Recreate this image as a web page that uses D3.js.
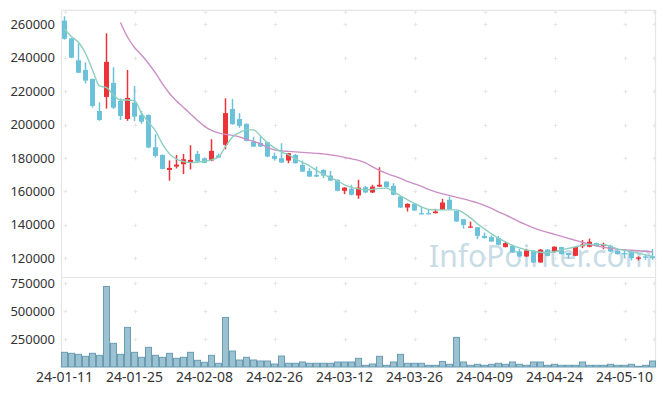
<!DOCTYPE html>
<html lang="en">
<head>
<meta charset="utf-8">
<title>Candles</title>
<script src="https://cdn.jsdelivr.net/npm/d3@7"></script>
<style>
  body { margin: 0; background: #fff; }
  svg { display: block; font-family: "Noto Sans", sans-serif; }
  .tick-label { fill: #333; }
</style>
</head>
<body>
<div id="chart"></div>
<script>
// trading days shown on the x axis
var dates = ["24-01-11","24-01-12","24-01-15","24-01-16","24-01-17","24-01-18","24-01-19","24-01-22","24-01-23","24-01-24",
  "24-01-25","24-01-26","24-01-29","24-01-30","24-01-31","24-02-01","24-02-02","24-02-05","24-02-06","24-02-07",
  "24-02-08","24-02-13","24-02-14","24-02-15","24-02-16","24-02-19","24-02-20","24-02-21","24-02-22","24-02-23",
  "24-02-26","24-02-27","24-02-28","24-02-29","24-03-04","24-03-05","24-03-06","24-03-07","24-03-08","24-03-11",
  "24-03-12","24-03-13","24-03-14","24-03-15","24-03-18","24-03-19","24-03-20","24-03-21","24-03-22","24-03-25",
  "24-03-26","24-03-27","24-03-28","24-03-29","24-04-01","24-04-02","24-04-03","24-04-04","24-04-05","24-04-08",
  "24-04-09","24-04-11","24-04-12","24-04-15","24-04-16","24-04-17","24-04-18","24-04-19","24-04-22","24-04-23",
  "24-04-24","24-04-25","24-04-26","24-04-29","24-04-30","24-05-02","24-05-03","24-05-07","24-05-08","24-05-09",
  "24-05-10","24-05-13","24-05-14","24-05-16","24-05-17"];

var openPx = [262200,251600,238500,232700,227300,208100,216500,224900,214100,203300,
  213100,205700,205700,186400,181800,172800,174800,176200,177000,182400,
  179800,178400,181500,187800,209300,203300,200400,189900,189000,189400,
  181200,179800,178400,181800,175800,172200,169800,172800,169400,166900,
  160300,161500,157500,162500,159300,162800,165800,163300,156900,150300,
  152500,146900,146900,146900,148900,154900,148300,143300,138300,138500,
  133300,132600,132000,126600,127400,124000,121000,124400,117400,125100,
  124000,126600,123000,121400,127100,126800,129000,127200,127400,124400,
  123000,123500,119600,121000,121100];
var highPx = [264800,251800,248600,237200,227500,213300,254600,234300,215600,232700,
  223100,208100,206000,194200,182000,178500,181800,182400,187600,184200,
  180200,191200,182700,215700,215300,206800,200600,192600,192800,189600,
  183200,188800,183000,182400,178400,173900,174800,173200,172200,167000,
  162500,163900,166900,163200,163900,174400,166000,164900,157100,152800,
  152700,150900,149300,149500,155500,156900,148500,143500,141900,138700,
  135300,133600,133300,129900,128000,125400,125600,124600,125400,125400,
  127000,126800,123200,126800,130800,131700,129300,129300,128000,124600,
  125000,123700,121000,122000,125400];
var lowPx = [250800,239700,230700,224600,210100,202200,209500,209300,202700,202200,
  202000,200400,185800,180300,173200,166400,173700,170300,173100,177500,
  176800,178000,180000,185200,199900,198000,189900,186500,186500,180500,
  178400,177000,176800,176600,171600,168600,168600,167900,166200,160000,
  158300,157600,155500,159000,159000,162600,162300,157600,150000,147900,
  148300,146100,146100,146700,148700,149100,141700,137700,138100,131400,
  131700,129700,127700,126400,123100,120700,120700,117100,117100,121100,
  123200,122100,119700,121200,126000,126500,126900,125300,123700,122100,
  120000,118600,118600,119000,119000];
var closePx = [251300,240000,231000,226300,211100,202700,237500,210100,205100,215900,
  204700,201700,186200,181200,173400,174000,176000,179200,178800,177800,
  177000,184200,180200,206800,200200,199200,190200,186800,186800,180800,
  179400,177200,182800,176800,171800,168800,168800,169400,166400,160300,
  162200,157900,162200,159300,162800,163900,162500,157900,150300,152500,
  148500,146300,146300,147900,153300,149300,141900,139900,138900,133300,
  132000,129900,128000,129000,123400,121000,124600,117400,125100,121400,
  126800,122400,121800,126600,128100,129800,127200,128000,124000,122400,
  122400,120000,120400,120200,120000];
var volume = [131700,122800,113800,95900,122800,104800,723100,212400,113800,355800,
  131700,86900,176500,104800,86900,122800,78000,86900,131700,60000,
  42100,104800,33200,445400,143400,62700,86900,62700,53800,53800,
  26900,98600,33200,33200,44800,33200,33200,33200,33200,44800,
  44800,44800,78000,15200,26900,95900,15200,44800,113800,33200,
  33200,33200,15200,15200,50000,24200,266100,44800,15200,24200,
  15200,24200,33200,24200,44800,24200,15200,44800,44800,15200,
  24200,15200,15200,15200,44800,15200,15200,15200,24200,15200,
  15200,24200,6300,15200,53800];
// short moving average (green) and long moving average (purple, starts at day 8)
var maShort = [257190,252580,249230,242650,232660,223090,222070,217700,214710,214710,
  214290,206750,201370,196160,188210,182400,179230,177800,177200,177440,
  178040,178810,180610,186770,192570,195150,196760,196760,193170,188980,
  185990,183600,181800,179410,177320,175220,172530,170140,168040,166250,
  163850,162360,161460,160860,161160,161760,161880,159670,157270,154880,
  152790,150690,149200,148900,148900,148900,148900,147100,144110,140520,
  137530,134540,131850,129750,127660,126160,124970,124070,123470,123170,
  123770,124970,125860,126760,127660,128250,128250,127960,127060,125560,
  124670,123770,122870,121970,121070];
var maLong = [null,null,null,null,null,null,null,null,261080,252400,
  246120,241630,236550,230860,224280,218600,214110,210220,206330,202450,
  198860,196460,194970,194070,193470,192570,191080,189880,188390,186290,
  184790,184200,183900,183600,183300,183000,182700,182400,181800,181200,
  180310,179410,178510,177020,174630,172530,170740,169240,167740,165950,
  164450,162960,161160,159670,158470,157570,156380,155480,154280,153090,
  151590,149790,147700,145910,143810,141720,139920,138130,136630,135440,
  134240,133040,131850,130650,129450,128250,127360,126460,125860,125260,
  124970,124670,124370,124070,123770];

var priceTicks = [120000,140000,160000,180000,200000,220000,240000,260000];
var volumeTicks = [250000,500000,750000];
var labelEvery = 10;

var W = 665, H = 396;
var plotLeft = 61, plotRight = 656, plotTop = 10.3, split = 277.5, plotBottom = 367;

var svg = d3.select("#chart").append("svg")
  .attr("width", W).attr("height", H);

var x = d3.scaleBand().domain(dates).range([plotLeft, plotRight]).padding(0);
var bw = x.bandwidth();
var cx = function(i) { return x(dates[i]) + bw / 2; };

var y = d3.scaleLinear().domain([108390, 268380]).range([split, plotTop]);
var yv = d3.scaleLinear().domain([0, 803800]).range([plotBottom, split]);

var xTickIdx = d3.range(0, dates.length, labelEvery);

// grid crosses
var grid = svg.append("g").attr("stroke", "#e8e8e8").attr("stroke-width", 1);
function cross(px, py) {
  grid.append("line").attr("x1", px - 2).attr("x2", px + 2).attr("y1", py).attr("y2", py);
  grid.append("line").attr("x1", px).attr("x2", px).attr("y1", py - 2).attr("y2", py + 2);
}
var gx = xTickIdx.map(function(i) { return Math.round(cx(i)) + 0.5; }).concat([plotRight - 1.5]);
gx.forEach(function(px) {
  priceTicks.forEach(function(t) { cross(px, Math.round(y(t)) + 0.5); });
  volumeTicks.forEach(function(t) { cross(px, Math.round(yv(t)) + 0.5); });
  cross(px, plotTop + 2);
});

// frame
var frame = svg.append("g").attr("stroke", "#e6e6e6").attr("stroke-width", 1.2).attr("fill", "none");
frame.append("line").attr("x1", plotLeft + 0.5).attr("x2", plotLeft + 0.5).attr("y1", plotTop).attr("y2", plotBottom);
frame.append("line").attr("x1", plotRight - 0.5).attr("x2", plotRight - 0.5).attr("y1", plotTop).attr("y2", plotBottom);
frame.append("line").attr("x1", plotLeft).attr("x2", plotRight).attr("y1", plotTop).attr("y2", plotTop);
frame.append("line").attr("x1", plotLeft).attr("x2", plotRight).attr("y1", split).attr("y2", split);

// watermark
svg.append("text")
  .attr("x", 429).attr("y", 267)
  .attr("font-size", 30)
  .attr("fill", "#c8dce6")
  .text("InfoPointer.com");

// y axes
var yAxis = d3.axisLeft(y).tickValues(priceTicks).tickSize(0).tickPadding(6).tickFormat(d3.format("d"));
svg.append("g").attr("transform", "translate(" + plotLeft + ",0)").call(yAxis)
  .call(function(g) { g.select(".domain").remove(); })
  .selectAll("text").attr("class", "tick-label").attr("font-size", 13)
  .attr("font-family", "Noto Sans, sans-serif");

var vAxis = d3.axisLeft(yv).tickValues(volumeTicks).tickSize(0).tickPadding(6).tickFormat(d3.format("d"));
svg.append("g").attr("transform", "translate(" + plotLeft + ",0)").call(vAxis)
  .call(function(g) { g.select(".domain").remove(); })
  .selectAll("text").attr("class", "tick-label").attr("font-size", 13)
  .attr("font-family", "Noto Sans, sans-serif");

// x axis labels
var xAxis = d3.axisBottom(x).tickValues(xTickIdx.map(function(i) { return dates[i]; }))
  .tickSize(0).tickPadding(5);
svg.append("g").attr("transform", "translate(0," + plotBottom + ")").call(xAxis)
  .call(function(g) { g.select(".domain").remove(); })
  .selectAll("text").attr("class", "tick-label").attr("font-size", 14)
  .attr("font-family", "Noto Sans, sans-serif");

// volume bars
svg.append("g").selectAll("rect").data(volume).enter().append("rect")
  .attr("x", function(d, i) { return x(dates[i]) + 0.5; })
  .attr("width", bw - 1)
  .attr("y", function(d) { return yv(d); })
  .attr("height", function(d) { return plotBottom - yv(d); })
  .attr("fill", "#9cc2d2")
  .attr("stroke", "#6a9db4")
  .attr("stroke-width", 1);

// candles
var up = "#ec3338", down = "#6cc3d9";
var isUp = function(i) { return closePx[i] > openPx[i]; };
var candles = svg.append("g").selectAll("g").data(dates).enter().append("g");
candles.append("line")
  .attr("x1", function(d, i) { return cx(i); })
  .attr("x2", function(d, i) { return cx(i); })
  .attr("y1", function(d, i) { return y(highPx[i]); })
  .attr("y2", function(d, i) { return y(lowPx[i]); })
  .attr("stroke", function(d, i) { return isUp(i) ? up : down; })
  .attr("stroke-width", 1.5);
candles.append("rect")
  .attr("x", function(d, i) { return cx(i) - 2.5; })
  .attr("width", 5)
  .attr("y", function(d, i) { return y(Math.max(openPx[i], closePx[i])); })
  .attr("height", function(d, i) { return Math.max(1.2, Math.abs(y(openPx[i]) - y(closePx[i]))); })
  .attr("fill", function(d, i) { return isUp(i) ? up : down; });

// moving averages
var line = d3.line()
  .defined(function(d) { return d != null; })
  .x(function(d, i) { return cx(i); })
  .y(function(d) { return y(d); })
  .curve(d3.curveMonotoneX);

svg.append("path").datum(maLong).attr("d", line)
  .attr("fill", "none").attr("stroke", "#cb8fc5").attr("stroke-width", 1.4);
svg.append("path").datum(maShort).attr("d", line)
  .attr("fill", "none").attr("stroke", "#8ccfbf").attr("stroke-width", 1.4);
</script>
</body>
</html>
